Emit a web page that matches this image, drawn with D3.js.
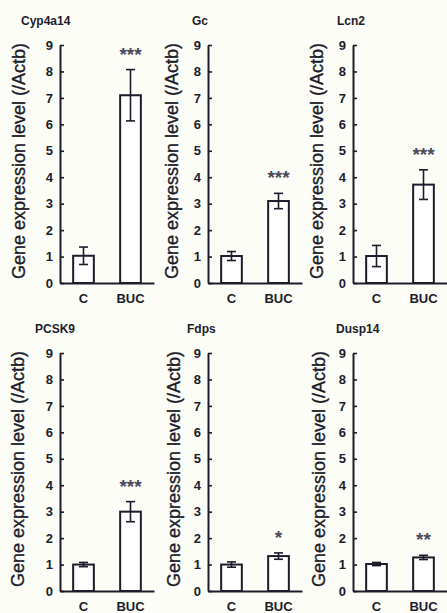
<!DOCTYPE html>
<html>
<head>
<meta charset="utf-8">
<script src="https://cdn.jsdelivr.net/npm/d3@7"></script>
<style>
  body { margin: 0; background: #fdfdf8; }
  svg { display: block; font-family: "Liberation Sans", Arial, sans-serif; }
</style>
</head>
<body>
<div id="chart-area"></div>
<script>
// data
const genes = ["Cyp4a14", "Gc", "Lcn2", "PCSK9", "Fdps", "Dusp14"];
const groups = ["C", "BUC"];
const meanC = [1.03, 1.02, 1.02, 1.0, 1.0, 1.02];
const errC = [0.33, 0.17, 0.4, 0.08, 0.1, 0.06];
const meanBUC = [7.1, 3.1, 3.72, 3.0, 1.32, 1.27];
const errBUC = [0.97, 0.29, 0.56, 0.38, 0.12, 0.08];
const stars = ["***", "***", "***", "***", "*", "**"];
const yTicks = [0, 1, 2, 3, 4, 5, 6, 7, 8, 9];
const yLabel = "Gene expression level (/Actb)";

const width = 447, height = 613;
const ink = "#1c1c2a";

// panel layout (3 columns x 2 rows)
const axisX = [60, 208, 353];
const rowTop = [45, 353];
const plotH = 238;
const titleX = [21, 192, 337, 35, 187, 336];
const labelDx = [-35, -30, -30, -36, -28, -28];

let svg = d3.select("#chart-area").append("svg")
  .attr("width", width)
  .attr("height", height);

svg.append("rect")
  .attr("width", width)
  .attr("height", height)
  .attr("fill", "#fdfdf8");

let y = d3.scaleLinear().domain([0, 9]).range([plotH, 0]);
let x = d3.scaleBand().domain(groups)
  .range([0, 94])
  .paddingInner(0.56)
  .paddingOuter(0.28);

genes.forEach(function (gene, i) {
  let col = i % 3, row = Math.floor(i / 3);
  let g = svg.append("g")
    .attr("transform", `translate(${axisX[col]}, ${rowTop[row]})`);

  let vals = [
    { group: "C", mean: meanC[i], err: errC[i] },
    { group: "BUC", mean: meanBUC[i], err: errBUC[i] }
  ];

  // title
  svg.append("text")
    .attr("x", titleX[i])
    .attr("y", rowTop[row] - 20)
    .attr("font-size", 12)
    .attr("font-weight", "bold")
    .attr("fill", ink)
    .text(gene);

  // y label
  g.append("text")
    .attr("transform", `translate(${labelDx[i]}, ${plotH / 2 - 3}) rotate(-90)`)
    .attr("text-anchor", "middle")
    .attr("font-size", 18)
    .attr("fill", ink)
    .attr("stroke", ink)
    .attr("stroke-width", 0.35)
    .text(yLabel);

  // bars
  g.selectAll(".bar")
    .data(vals)
    .enter()
    .append("rect")
    .attr("class", "bar")
    .attr("x", d => x(d.group))
    .attr("y", d => y(d.mean))
    .attr("width", x.bandwidth())
    .attr("height", d => plotH - y(d.mean))
    .attr("fill", "#ffffff")
    .attr("stroke", ink)
    .attr("stroke-width", 2);

  // error bars
  let eb = g.selectAll(".err")
    .data(vals)
    .enter()
    .append("g")
    .attr("class", "err")
    .attr("stroke", ink)
    .attr("stroke-width", 1.6);
  eb.append("line")
    .attr("x1", d => x(d.group) + x.bandwidth() / 2)
    .attr("x2", d => x(d.group) + x.bandwidth() / 2)
    .attr("y1", d => y(d.mean - d.err))
    .attr("y2", d => y(d.mean + d.err));
  eb.append("line")
    .attr("x1", d => x(d.group) + x.bandwidth() / 2 - 4.5)
    .attr("x2", d => x(d.group) + x.bandwidth() / 2 + 4.5)
    .attr("y1", d => y(d.mean + d.err))
    .attr("y2", d => y(d.mean + d.err));
  eb.append("line")
    .attr("x1", d => x(d.group) + x.bandwidth() / 2 - 4.5)
    .attr("x2", d => x(d.group) + x.bandwidth() / 2 + 4.5)
    .attr("y1", d => y(d.mean - d.err))
    .attr("y2", d => y(d.mean - d.err));

  // significance stars
  g.append("text")
    .attr("x", x("BUC") + x.bandwidth() / 2)
    .attr("y", y(meanBUC[i] + errBUC[i]) - 20 + 11)
    .attr("text-anchor", "middle")
    .attr("font-size", 19)
    .attr("font-weight", "bold")
    .attr("fill", "#4a4a5a")
    .text(stars[i]);

  // axes
  let yAxis = d3.axisLeft(y)
    .tickValues(yTicks)
    .tickSizeInner(-4)
    .tickSizeOuter(0)
    .tickPadding(7);
  let ya = g.append("g").call(yAxis);

  let xAxis = d3.axisBottom(x)
    .tickSize(0)
    .tickPadding(11);
  let xa = g.append("g")
    .attr("transform", `translate(0, ${plotH})`)
    .call(xAxis);

  [ya, xa].forEach(function (a) {
    a.select(".domain").attr("stroke", ink).attr("stroke-width", 2);
    a.selectAll(".tick line").attr("stroke", ink).attr("stroke-width", 1.6);
    a.selectAll("text")
      .attr("font-family", "Liberation Sans, Arial, sans-serif")
      .attr("font-size", 13)
      .attr("font-weight", "bold")
      .attr("fill", ink);
  });
});
</script>
</body>
</html>
